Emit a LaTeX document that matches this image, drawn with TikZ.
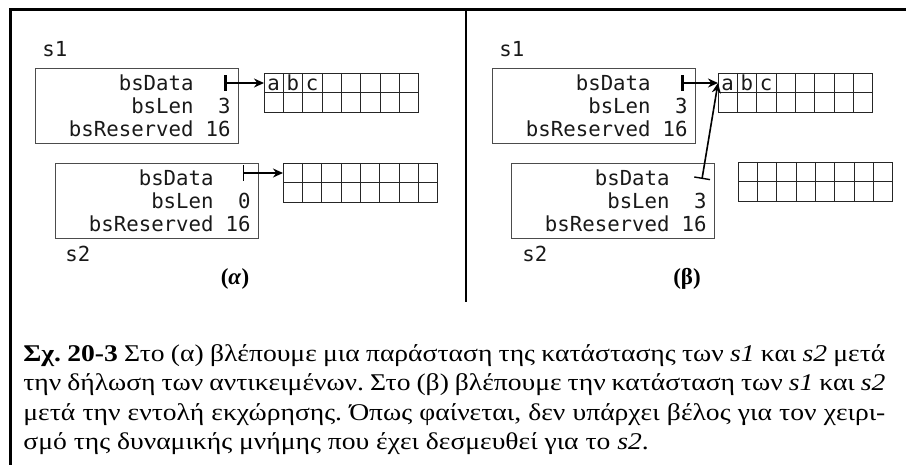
\documentclass[tikz,border=0pt]{standalone}
\usepackage{fontspec}
\setmainfont{Liberation Serif}
\setmonofont{DejaVu Sans Mono}
\newfontfamily\captionfont{Liberation Serif}[FakeStretch=1.15]
\usetikzlibrary{arrows.meta,calc}

\tikzset{
  frameline/.style={line width=1.5pt, black},
  divider/.style={line width=1pt, black},
  structbox/.style={draw=black!70, line width=0.5pt, minimum width=101.5pt,
    minimum height=37.5pt, anchor=north west, inner sep=0pt},
  code/.style={font=\fontsize{10.35}{12}\selectfont\ttfamily, inner sep=0pt, text=black!90},
  buffer/.style={draw=black!85, line width=0.5pt, minimum width=77pt,
    minimum height=19.5pt, anchor=north west, inner sep=0pt},
  cellline/.style={draw=black!85, line width=0.5pt},
  ptr/.style={line width=0.8pt, arrows={Bar[width=8pt,line width=0.7pt]-Stealth[length=5pt,width=4.5pt]}},
  ptrbold/.style={line width=0.8pt, arrows={Bar[width=8pt,line width=1.4pt]-Stealth[length=5pt,width=4.5pt]}},
  panel/.style={font=\bfseries\fontsize{11.5}{14}\selectfont, inner sep=0pt, anchor=base},
}

% a struct with its three members; #1 name, #2 position, #3 value of bsLen
\newcommand\structrows[3]{%
  \node[structbox] (#1) at (#2) {};
  \node[code, anchor=base east] (#1-data) at ($(#1.north east)+(-45,22.5)$) {bsData};
  \node[code, anchor=base east] (#1-len) at ($(#1.north east)+(-45,45.5)$) {bsLen};
  \node[code, anchor=base east] (#1-lenv) at ($(#1.north east)+(-8,45.5)$) {#3};
  \node[code, anchor=base east] (#1-res) at ($(#1.north east)+(-45,68.5)$) {bsReserved};
  \node[code, anchor=base east] (#1-resv) at ($(#1.north east)+(-8,68.5)$) {16};
}

% a 2x8 character buffer; #1 name, #2 position
\newcommand\membuf[2]{%
  \node[buffer] (#1) at (#2) {};
  \foreach \i in {1,...,7}
    \draw[cellline] ($(#1.north west)!\i/8!(#1.north east)$) -- ($(#1.south west)!\i/8!(#1.south east)$);
  \draw[cellline] (#1.west) -- (#1.east);
  \coordinate (#1-in) at ($(#1.north west)!0.25!(#1.south west)$);
}

% the letters a, b, c in the first three cells
\newcommand\abc[1]{%
  \node[code, anchor=base] (#1-a) at ($(#1.north west)+(9.6,17.5)$) {a};
  \node[code, anchor=base] (#1-b) at ($(#1.north west)+(28.9,17.5)$) {b};
  \node[code, anchor=base] (#1-c) at ($(#1.north west)+(48.1,17.5)$) {c};
}

\begin{document}
\begin{tikzpicture}[x=0.5pt, y=-0.5pt]
  \useasboundingbox (0,0) rectangle (906,465);

  % frame and divider
  \draw[frameline] (906,10) -- (10,10) -- (10,465);
  \draw[divider] (466,10) -- (466,302);

  % ---------- panel (alpha) ----------
  \node[code, anchor=base west] (s1a-name) at (42,57) {s1};
  \structrows{s1a}{35,68}{3}
  \membuf{buf1a}{264,73}
  \abc{buf1a}
  \coordinate (s1a-ptr) at ($(s1a.north east)+(-15,0)$);
  \draw[ptrbold] (s1a-ptr |- buf1a-in) -- (buf1a-in);

  \structrows{s2a}{55,163}{0}
  \node[code, anchor=base west] (s2a-name) at (65,262) {s2};
  \membuf{buf2a}{283,163}
  \coordinate (s2a-ptr) at ($(s2a.north east)+(-16,0)$);
  \draw[ptr] (s2a-ptr |- buf2a-in) -- (buf2a-in);

  \node[panel] (capA) at (235,285) {(\textit{α})};

  % ---------- panel (beta) ----------
  \node[code, anchor=base west] (s1b-name) at (499,57) {s1};
  \structrows{s1b}{492,68}{3}
  \membuf{buf1b}{718,73}
  \abc{buf1b}
  \coordinate (s1b-ptr) at ($(s1b.north east)+(-15,0)$);
  \draw[ptrbold] (s1b-ptr |- buf1b-in) -- (buf1b-in);

  \structrows{s2b}{511,163}{3}
  \node[code, anchor=base west] (s2b-name) at (522,262) {s2};
  \membuf{buf2b}{738,162}
  \coordinate (s2b-ptr) at ($(s2b.north east)+(-13,16)$);
  \draw[ptr] (s2b-ptr) -- (buf1b-in);

  \node[panel] (capB) at (687,285) {(β)};

  % ---------- caption ----------
  \node[anchor=base west, inner sep=0pt] (caption) at (23,361) {%
    \parbox[t]{431pt}{\captionfont\fontsize{12}{14.75}\selectfont
      \frenchspacing \tolerance=10000 \hyphenpenalty=10000
      {\bfseries Σχ. 20-3} Στο (α) βλέπουμε μια παράσταση της κατάστασης των \textit{s1} και \textit{s2} μετά\linebreak
      την δήλωση των αντικειμένων. Στο (β) βλέπουμε την κατάσταση των \textit{s1} και \textit{s2}\linebreak
      μετά την εντολή εκχώρησης. Όπως φαίνεται, δεν υπάρχει βέλος για τον χειρι-\linebreak
      σμό της δυναμικής μνήμης που έχει δεσμευθεί για το \textit{s2}.}};
\end{tikzpicture}
\end{document}
